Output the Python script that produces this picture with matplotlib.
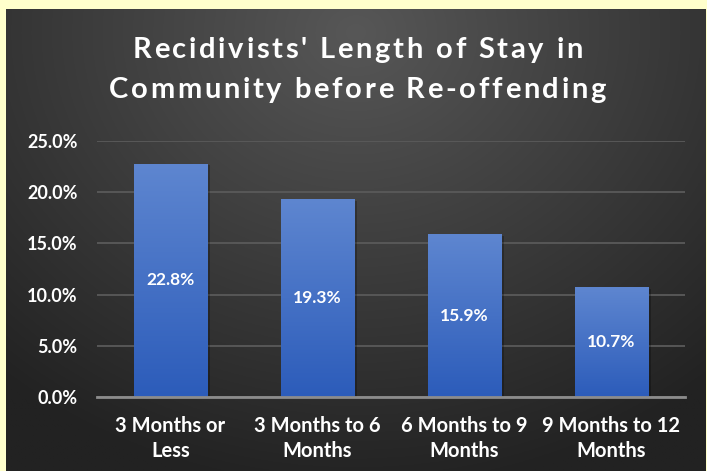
import numpy as np
import matplotlib.pyplot as plt
from matplotlib.ticker import FuncFormatter

plt.rcParams['font.family'] = ['Lato', 'DejaVu Sans']

# Share of recidivists by time spent in community before re-offending
categories = ['3 Months or\nLess', '3 Months to 6\nMonths',
              '6 Months to 9\nMonths', '9 Months to 12\nMonths']
shares = [22.8, 19.3, 15.9, 10.7]
yticks = [0, 5, 10, 15, 20, 25]
title_lines = ["Recidivists' Length of Stay in", "Community before Re-offending"]

W, H = 707, 471
fig = plt.figure(figsize=(W / 100, H / 100), dpi=100)
fig.patch.set_facecolor('#FFFFCC')

# dark panel with a soft radial glow near the top
bg = fig.add_axes([6 / W, 0, 700 / W, 462 / H])
bg.set_axis_off()
yy, xx = np.mgrid[0:1:300j, 0:1:450j]
r = np.sqrt(((xx - 0.5) * 1.3) ** 2 + ((yy - 0.95) * 1.0) ** 2)
shade = np.clip(1 - r / 1.0, 0, 1)
lo = np.array([0x22, 0x22, 0x22]) / 255
hi = np.array([0x57, 0x57, 0x57]) / 255
img = lo + (hi - lo) * shade[..., None]
bg.imshow(img, origin='lower', aspect='auto', extent=[0, 1, 0, 1])

ax = fig.add_axes([97 / W, (H - 397) / H, 588 / W, 256 / H])
ax.patch.set_alpha(0)
x = np.arange(len(categories))
bars = ax.bar(x, shares, width=0.5, color='none', zorder=3)

# vertical blue gradient in each bar
grad = np.linspace(0, 1, 256)[:, None]
top = np.array([0x5E, 0x86, 0xD0]) / 255
bot = np.array([0x2C, 0x5C, 0xBA]) / 255
cols = bot + (top - bot) * grad[..., None]
for b in bars:
    x0, w, h = b.get_x(), b.get_width(), b.get_height()
    sh = plt.Rectangle((x0 + 0.02, 0), w, h - 0.15, color='black', alpha=0.25,
                       zorder=2.5, lw=0)
    ax.add_patch(sh)
    im = ax.imshow(cols, origin='lower', aspect='auto',
                   extent=[x0, x0 + w, 0, h], zorder=3)
    im.set_clip_path(b)
    ax.text(x0 + w / 2, h / 2, f'{h:.1f}%', ha='center', va='center',
            color='white', fontsize=12.5, fontweight='bold', zorder=4)

ax.set_xlim(-0.5, 3.5)
ax.set_ylim(0, 25)
ax.set_yticks(yticks)
ax.yaxis.set_major_formatter(FuncFormatter(lambda v, p: f'{v:.1f}%'))
ax.set_xticks(x)
ax.set_xticklabels(categories, fontsize=14.5, fontweight='bold', color='white',
                   linespacing=1.3)
for t in ax.get_yticklabels():
    t.set_fontsize(13)
    t.set_fontweight('bold')
    t.set_color('white')
ax.tick_params(length=0)
ax.tick_params(axis='y', pad=14)
ax.tick_params(axis='x', pad=14)
ax.grid(axis='y', color='#5A5A5A', lw=1.3, zorder=1)
for s in ['top', 'right', 'left']:
    ax.spines[s].set_visible(False)
ax.spines['bottom'].set_color('#8C8C8C')
ax.spines['bottom'].set_linewidth(2)
ax.spines['bottom'].set_zorder(5)

# title drawn letter by letter so it can be tracked out
renderer = fig.canvas.get_renderer()
track = 2.7  # px between letters
for i, line in enumerate(title_lines):
    yc = (H - 50 - 40 * i) / H
    widths = []
    for ch in line:
        t = fig.text(0, 0, ch if ch != ' ' else 'n', fontsize=21, fontweight='bold')
        wd = t.get_window_extent(renderer).width
        if ch == ' ':
            wd *= 0.45
        widths.append(wd)
        t.remove()
    total = sum(widths) + track * (len(line) - 1)
    xp = (W - total) / 2 + 4
    for ch, wd in zip(line, widths):
        if ch != ' ':
            fig.text(xp / W, yc, ch, ha='left', va='center', color='white',
                     fontsize=21, fontweight='bold')
        xp += wd + track

fig.savefig('out.png', dpi=100, facecolor=fig.get_facecolor())
